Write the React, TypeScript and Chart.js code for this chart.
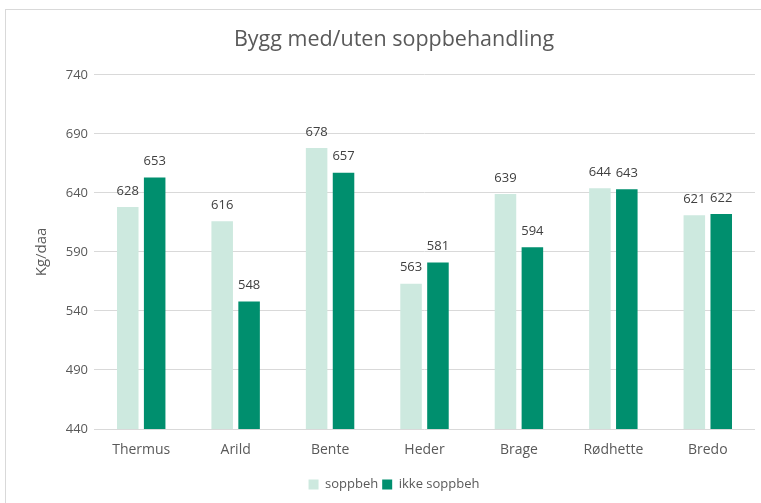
import { useEffect, useRef } from 'react';
import { Chart, registerables } from 'chart.js';
Chart.register(...registerables);

const categories = ['Thermus', 'Arild', 'Bente', 'Heder', 'Brage', 'Rødhette', 'Bredo'];
const soppbeh = [628, 616, 678, 563, 639, 644, 621];
const ikkeSoppbeh = [653, 548, 657, 581, 594, 643, 622];
const yMin = 440;
const yMax = 740;
const yStep = 50;

const FONT = "'Open Sans', 'Noto Sans', sans-serif";

const dataLabels = {
  id: 'dataLabels',
  afterDatasetsDraw(chart: any) {
    const ctx = chart.ctx;
    ctx.save();
    ctx.font = `13px ${FONT}`;
    ctx.fillStyle = '#404040';
    ctx.textAlign = 'center';
    ctx.textBaseline = 'middle';
    chart.data.datasets.forEach((ds: any, i: number) => {
      const meta = chart.getDatasetMeta(i);
      meta.data.forEach((bar: any, j: number) => {
        ctx.fillText(String(ds.data[j]), bar.x, bar.y - 16);
      });
    });
    ctx.restore();
  },
};

export default function App() {
  const ref = useRef<HTMLCanvasElement>(null);
  useEffect(() => {
    const chart = new Chart(ref.current!, {
      type: 'bar',
      data: {
        labels: categories,
        datasets: [
          { label: 'soppbeh', data: soppbeh, backgroundColor: '#cde9df', barPercentage: 0.8, categoryPercentage: 0.57 },
          { label: 'ikke soppbeh', data: ikkeSoppbeh, backgroundColor: '#008f6e', barPercentage: 0.8, categoryPercentage: 0.57 },
        ],
      },
      options: {
        responsive: false,
        animation: false,
        devicePixelRatio: 1,
        layout: { padding: { left: 33, right: 6, top: 0, bottom: 2 } },
        plugins: {
          title: {
            display: true,
            text: 'Bygg med/uten soppbehandling',
            color: '#595959',
            font: { family: FONT, size: 21.5, weight: 'normal' },
            padding: { top: 27, bottom: 22 },
          },
          legend: {
            position: 'bottom',
            labels: {
              color: '#595959',
              font: { family: FONT, size: 13 },
              boxWidth: 10,
              boxHeight: 10,
              padding: 4,
            },
          },
          tooltip: { enabled: false },
        },
        scales: {
          x: {
            grid: { display: false },
            border: { display: false },
            ticks: { color: '#595959', font: { family: FONT, size: 14 }, padding: 5 },
            afterFit: (s: any) => { s.height = 45; },
          },
          y: {
            min: yMin,
            max: yMax,
            ticks: { stepSize: yStep, color: '#595959', font: { family: FONT, size: 13 }, padding: 6 },
            grid: { color: '#d9d9d9', drawTicks: false },
            border: { display: false },
            title: {
              display: true,
              text: 'Kg/daa',
              color: '#595959',
              font: { family: FONT, size: 15 },
              padding: 0,
            },
            afterFit: (s: any) => { s.width = 61; },
          },
        },
      },
      plugins: [dataLabels],
    });
    return () => chart.destroy();
  }, []);
  return (
    <div style={{ position: 'fixed', left: 0, top: 0, width: 761, height: 503, overflow: 'hidden', background: '#fff' }}>
      <div style={{ position: 'absolute', left: 5, top: 9, width: 800, height: 600, border: '1px solid #d9d9d9' }} />
      <canvas ref={ref} width={761} height={503} style={{ position: 'absolute', left: 0, top: 0, width: 761, height: 503 }} />
    </div>
  );
}
